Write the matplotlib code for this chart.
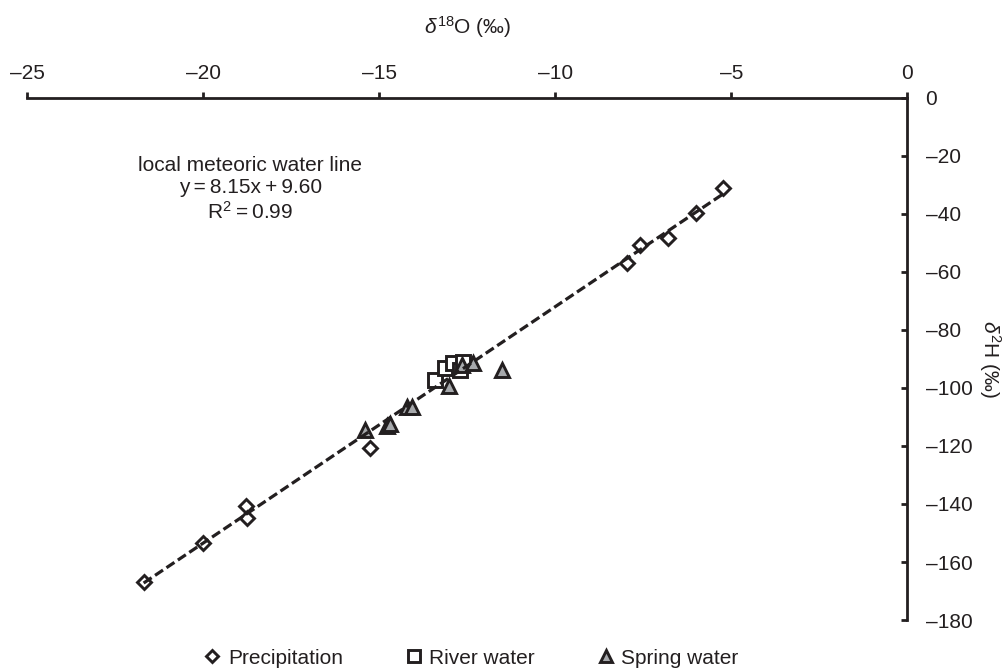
import matplotlib
matplotlib.use("Agg")
import matplotlib.pyplot as plt
import numpy as np

plt.rcParams['font.family'] = ['Liberation Sans', 'DejaVu Sans']
plt.rcParams['mathtext.fontset'] = 'custom'
plt.rcParams['mathtext.rm'] = 'Liberation Sans'
plt.rcParams['mathtext.it'] = 'Liberation Sans:italic'
plt.rcParams['mathtext.bf'] = 'Liberation Sans:bold'

# ---- data ----
precip_d18O = [-21.70, -20.00, -18.80, -18.75, -15.27, -7.98, -7.60, -6.80, -6.01, -5.23]
precip_d2H = [-166.9, -153.4, -140.7, -144.7, -120.8, -56.8, -50.7, -48.4, -39.5, -31.1]

river_d18O = [-13.42, -13.14, -12.90, -12.71, -12.62]
river_d2H = [-97.2, -93.2, -91.5, -93.8, -90.9]

spring_d18O = [-15.41, -14.80, -14.70, -14.23, -14.09, -13.02, -12.66, -12.33, -11.53]
spring_d2H = [-114.5, -113.0, -112.3, -106.4, -106.6, -99.3, -92.1, -91.5, -93.8]

lmwl_slope = 8.15
lmwl_intercept = 9.60
lmwl_r2 = 0.99

x_ticks = [-25, -20, -15, -10, -5, 0]
y_ticks = [0, -20, -40, -60, -80, -100, -120, -140, -160, -180]

INK = '#231f20'
GREY = '#a7a9ac'
FS = 15
TS = '\u2009'  # thin space

fig = plt.figure(figsize=(10.05, 6.69), dpi=100)
ax = fig.add_axes([0.02736, 0.07324, 0.8756, 0.7803])

# regression line across the precipitation range
xl = np.array([min(precip_d18O), max(precip_d18O)])
ax.plot(xl, lmwl_slope * xl + lmwl_intercept, color=INK, lw=2.3,
        linestyle=(0, (3.0, 1.3)), zorder=4)

ax.plot(precip_d18O, precip_d2H, linestyle='none', marker='D', ms=7.2,
        mfc='none', mec=INK, mew=2.1, zorder=3, label='Precipitation')
ax.plot(river_d18O, river_d2H, linestyle='none', marker='s', ms=9.5,
        mfc='white', mec=INK, mew=2.1, zorder=2, label='River water')
ax.plot(spring_d18O, spring_d2H, linestyle='none', marker='^', ms=10.5,
        mfc=GREY, mec=INK, mew=2.1, zorder=3, label='Spring water')

ax.set_xlim(-25, 0)
ax.set_ylim(-180, 0)

for s in ['left', 'bottom']:
    ax.spines[s].set_visible(False)
for s in ['top', 'right']:
    ax.spines[s].set_linewidth(2.0)
    ax.spines[s].set_color(INK)

ax.xaxis.set_ticks_position('top')
ax.xaxis.set_label_position('top')
ax.yaxis.set_ticks_position('right')
ax.yaxis.set_label_position('right')

ax.set_xticks(x_ticks)
ax.set_yticks(y_ticks)
ax.set_xticklabels([('\u2013' + str(-v) if v < 0 else str(v)) for v in x_ticks])
ax.set_yticklabels([('\u2013' + str(-v) if v < 0 else str(v)) for v in y_ticks])

ax.tick_params(axis='x', direction='out', length=4.5, width=2.0, color=INK,
               labelsize=FS, pad=6, labelcolor=INK)
ax.tick_params(axis='y', direction='in', length=4.5, width=2.0, color=INK,
               labelsize=FS, pad=13, labelcolor=INK)
for lab in ax.get_yticklabels():
    lab.set_horizontalalignment('left')

ax.set_xlabel(r'$\delta^{\mathrm{18}}$O (‰)', fontsize=FS, color=INK, labelpad=22)
ax.set_ylabel(r'$\delta^{\mathrm{2}}$H (‰)', fontsize=FS, color=INK,
              rotation=270, labelpad=3, va='bottom')

ax.text(0.253, 0.889,
        'local meteoric water line\n'
        f'y{TS}={TS}{lmwl_slope:.2f}x{TS}+{TS}{lmwl_intercept:.2f}\n'
        r'R$^{2}$' + f'{TS}={TS}{lmwl_r2:.2f}',
        transform=ax.transAxes, ha='center', va='top', multialignment='center',
        fontsize=FS, color=INK, linespacing=1.22)

leg = fig.legend(loc='center', bbox_to_anchor=(0.469, 0.0164), ncol=3,
                 frameon=False, fontsize=FS, handlelength=0.8,
                 handletextpad=0.35, columnspacing=3.0, labelcolor=INK,
                 markerscale=0.85)

fig.savefig('out.png', dpi=100)
